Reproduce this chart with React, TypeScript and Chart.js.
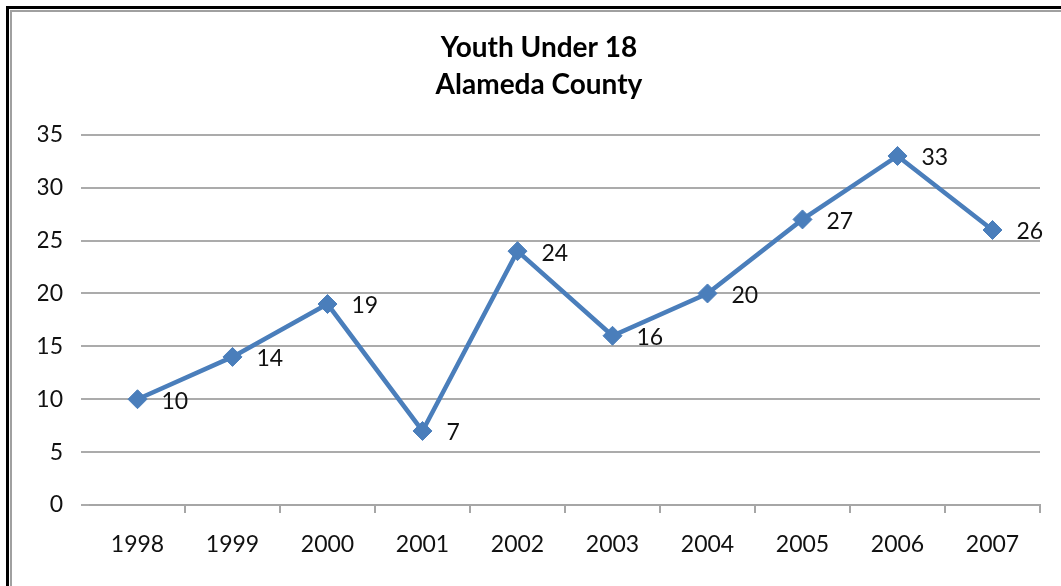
import React, { useEffect, useRef } from "react";
import { Chart, registerables } from "chart.js";

Chart.register(...registerables);

const years = ["1998", "1999", "2000", "2001", "2002", "2003", "2004", "2005", "2006", "2007"];
const youthValues = [10, 14, 19, 7, 24, 16, 20, 27, 33, 26];
const titleLines = ["Youth Under 18", "Alameda County"];
const yMin = 0;
const yMax = 35;
const yStep = 5;

const FONT = "Lato";
const LINE_COLOR = "#4a7ebb";

const pointLabels = {
  id: "pointLabels",
  afterDatasetsDraw(chart: any) {
    const ctx = chart.ctx;
    const meta = chart.getDatasetMeta(0);
    const data = chart.data.datasets[0].data as number[];
    ctx.save();
    ctx.font = `23px ${FONT}`;
    ctx.fillStyle = "#111";
    ctx.textAlign = "left";
    ctx.textBaseline = "middle";
    meta.data.forEach((el: any, i: number) => {
      ctx.fillText(String(data[i]), el.x + 24, el.y + 2);
    });
    ctx.restore();
  },
};

export default function App() {
  const ref = useRef<HTMLCanvasElement | null>(null);

  useEffect(() => {
    if (!ref.current) return;
    const chart = new Chart(ref.current, {
      type: "line",
      data: {
        labels: years,
        datasets: [
          {
            data: youthValues,
            borderColor: LINE_COLOR,
            backgroundColor: LINE_COLOR,
            borderWidth: 4.5,
            pointStyle: "rectRot",
            pointRadius: 9.5,
            pointBorderWidth: 1,
            pointBackgroundColor: LINE_COLOR,
            pointBorderColor: LINE_COLOR,
            tension: 0,
          },
        ],
      },
      options: {
        responsive: false,
        animation: false,
        devicePixelRatio: 1,
        layout: { padding: { top: 0, right: 21, left: 38, bottom: 0 } },
        plugins: {
          legend: { display: false },
          tooltip: { enabled: false },
          title: {
            display: true,
            text: titleLines,
            color: "#000",
            font: { family: FONT, size: 28, weight: "bold", lineHeight: 1.3 },
            padding: { top: 30, bottom: 32 },
          },
        },
        scales: {
          x: {
            offset: true,
            grid: {
              offset: true,
              drawOnChartArea: false,
              drawTicks: true,
              tickLength: 8,
              lineWidth: 2,
              color: (c: any) => (c.index === 0 ? "rgba(0,0,0,0)" : "#a6a6a6"),
            },
            border: { display: true, color: "#a6a6a6", width: 2 },
            ticks: { font: { family: FONT, size: 23 }, color: "#111", padding: 18, maxRotation: 0 },
            afterFit: (s: any) => {
              s.height = 81;
            },
          },
          y: {
            min: yMin,
            max: yMax,
            grid: { color: "#ababab", lineWidth: 2, tickLength: 9, drawTicks: true },
            border: { display: false },
            ticks: { stepSize: yStep, font: { family: FONT, size: 23 }, color: "#111", padding: 18 },
            afterFit: (s: any) => {
              s.width = 52;
            },
          },
        },
      },
      plugins: [pointLabels],
    });
    return () => chart.destroy();
  }, []);

  return (
    <div
      style={{
        position: "fixed",
        left: 0,
        top: 0,
        width: 1061,
        height: 586,
        overflow: "hidden",
        background: "#fff",
      }}
    >
      <div
        style={{
          position: "absolute",
          left: 6,
          top: 6,
          width: 2000,
          height: 2000,
          border: "3px solid #000",
          boxSizing: "border-box",
        }}
      >
        <div
          style={{
            position: "absolute",
            left: 1,
            top: 1,
            width: 1990,
            height: 1990,
            border: "2px solid #a0a0a0",
            boxSizing: "border-box",
          }}
        />
      </div>
      <canvas
        ref={ref}
        width={1061}
        height={586}
        style={{ position: "absolute", left: 0, top: 0, width: 1061, height: 586 }}
      />
    </div>
  );
}
